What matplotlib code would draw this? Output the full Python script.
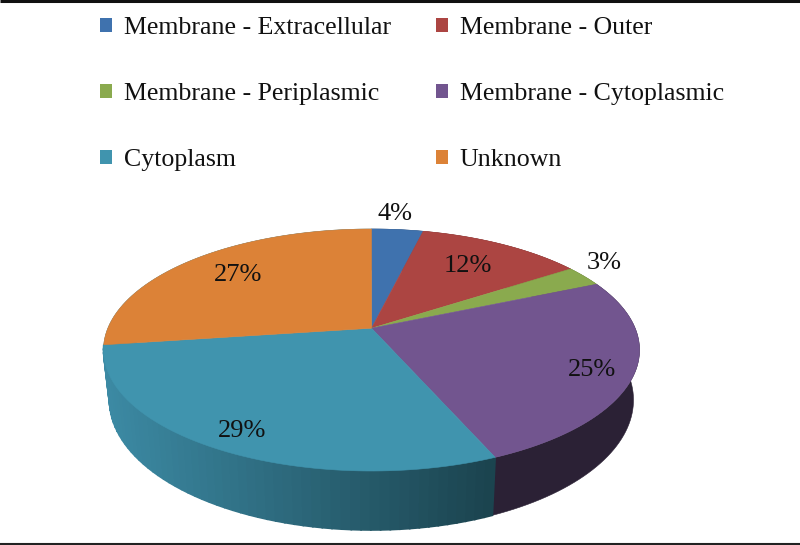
import matplotlib
matplotlib.use("Agg")
import matplotlib.pyplot as plt
import numpy as np
from matplotlib.colors import to_rgb
from matplotlib.patches import Patch

plt.rcParams['font.family'] = ['Liberation Serif']

categories = ["Membrane - Extracellular", "Membrane - Outer", "Membrane - Periplasmic",
              "Membrane - Cytoplasmic", "Cytoplasm", "Unknown"]
# slice sizes, the labels show them rounded
values = [3.7, 11.9, 2.8, 25.2, 29.2, 27.2]
labels = ["4%", "12%", "3%", "25%", "29%", "27%"]
colors = ["#3f72ae", "#ac4542", "#8aaa4e", "#72558f", "#4094ae", "#dc8237"]
side_colors = ["#2c4466", "#662a28", "#52652e", "#2b2135", "#3c8aa4", "#3c8aa4"]
label_pos = [(395, 214), (468, 266), (604, 263), (592, 370), (242, 431), (238, 275)]

# top face and bottom rim of the tilted disc, in pixels
top_c, top_rx, top_ry = (371.5, 350), 268, 121
bot_c, bot_rx, bot_ry = (371.5, 400), 262, 130
tilt = -0.18  # moves the pie centre up to y=328


def unit_xy(theta):
    # clockwise from 12 o'clock, with the centre pushed back by the tilt
    x, y = np.sin(theta), -np.cos(theta)
    d = 1 + tilt * y
    return x * np.sqrt(1 - tilt ** 2) / d, (y + tilt) / d


def rim(theta, c, rx, ry):
    x, y = unit_xy(theta)
    return c[0] + rx * x, c[1] + ry * y


fig = plt.figure(figsize=(8, 5.45), dpi=100)
ax = fig.add_axes([0, 0, 1, 1])
ax.set_xlim(0, 800)
ax.set_ylim(545, 0)
ax.axis('off')

edges = np.radians(np.cumsum([0] + values) * 3.6)

# sides first, top face goes over them
for i in range(len(values)):
    if categories[i] == "Cytoplasm":
        # shaded from light on the left to dark at the front right, in bands
        ts = np.linspace(edges[i + 1], edges[i], 60)
        for t0, t1 in zip(ts[:-1], ts[1:]):
            tx, ty = rim(np.array([t0, t1]), top_c, top_rx, top_ry)
            bx, by = rim(np.array([t1, t0]), bot_c, bot_rx, bot_ry)
            f = np.clip((tx.mean() - 105) / 390, 0, 1)
            col = (1 - f) * np.array(to_rgb("#3c8aa4")) + f * np.array(to_rgb("#1b434e"))
            ax.fill(np.r_[tx, bx], np.r_[ty, by], color=tuple(col), lw=1.2, zorder=1.5)
    else:
        ts = np.linspace(edges[i], edges[i + 1], 60)
        tx, ty = rim(ts, top_c, top_rx, top_ry)
        bx, by = rim(ts[::-1], bot_c, bot_rx, bot_ry)
        ax.fill(np.r_[tx, bx], np.r_[ty, by], color=side_colors[i], lw=0.4, zorder=1)

apex = (top_c[0], top_c[1] + top_ry * tilt)
for i in range(len(values)):
    ts = np.linspace(edges[i], edges[i + 1], 80)
    x, y = rim(ts, top_c, top_rx, top_ry)
    ax.fill(np.r_[apex[0], x], np.r_[apex[1], y], color=colors[i], lw=0.4, zorder=2)

for lab, (lx, ly) in zip(labels, label_pos):
    ax.text(lx, ly, lab, fontsize=19, color="#111111", ha='center', va='center', zorder=3)

# legend fills by column, the original reads across rows
order = [0, 2, 4, 1, 3, 5]
handles = [Patch(facecolor=colors[i], edgecolor='none') for i in order]
leg = ax.legend(handles, [categories[i] for i in order], ncol=2, loc='upper left',
                bbox_to_anchor=(100 / 800, 1 - 17 / 545),
                frameon=False, fontsize=18.6, handlelength=0.46, handleheight=0.46, handletextpad=0.46,
                labelspacing=1.70, columnspacing=1.75, borderpad=0, borderaxespad=0)
for t in leg.get_texts():
    t.set_color("#111111")

# black rules of the original figure box
ax.hlines(1, 0, 800, color="#111111", lw=2.2)
ax.hlines(544, 0, 800, color="#222222", lw=1.5)

plt.savefig("out.png", dpi=100)
